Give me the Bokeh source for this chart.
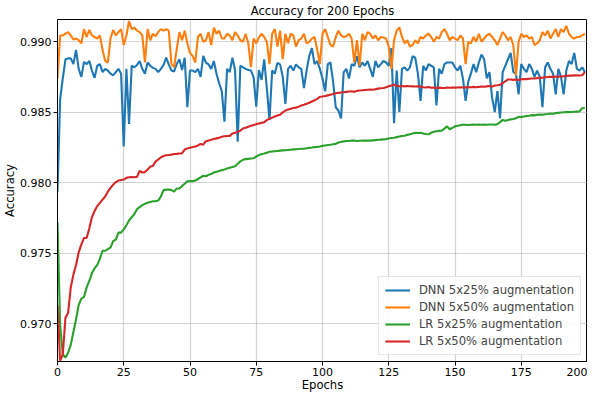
from bokeh.plotting import figure
from bokeh.models import FixedTicker, PrintfTickFormatter, Range1d, Legend, LegendItem
from bokeh.embed import file_html
from bokeh.resources import INLINE

epochs = list(range(200))

dnn_25 = [
    0.97937, 0.98593, 0.98740, 0.98876, 0.98882, 0.98882, 0.98842, 0.98943, 0.98808, 0.98751,
    0.98857, 0.98842, 0.98864, 0.98796, 0.98744, 0.98830, 0.98842, 0.98785, 0.98808, 0.98796,
    0.98774, 0.98762, 0.98785, 0.98808, 0.98774, 0.98258, 0.98808, 0.98417, 0.98830, 0.98819,
    0.98835, 0.98864, 0.98808, 0.98774, 0.98853, 0.98830, 0.98815, 0.98808, 0.98785, 0.98808,
    0.98835, 0.98887, 0.98840, 0.98796, 0.98790, 0.98842, 0.98876, 0.98800, 0.98887, 0.98536,
    0.98796, 0.98796, 0.98785, 0.98808, 0.98751, 0.98900, 0.98853, 0.98840, 0.98808, 0.98864,
    0.98774, 0.98706, 0.98650, 0.98434, 0.98808, 0.98785, 0.98887, 0.98800, 0.98292, 0.98830,
    0.98819, 0.98808, 0.98800, 0.98796, 0.98750, 0.98540, 0.98800, 0.98730, 0.98876, 0.98670,
    0.98446, 0.98796, 0.98774, 0.98850, 0.98840, 0.98751, 0.98559, 0.98808, 0.98830, 0.98796,
    0.98840, 0.98819, 0.98808, 0.98672, 0.98796, 0.98898, 0.98955, 0.98842, 0.98864, 0.98808,
    0.98740, 0.98649, 0.98842, 0.98853, 0.98717, 0.98536, 0.98513, 0.98457, 0.98785, 0.98808,
    0.98740, 0.98842, 0.98830, 0.98898, 0.98819, 0.98853, 0.98830, 0.98864, 0.98808, 0.98751,
    0.98864, 0.98819, 0.98842, 0.98864, 0.98853, 0.98830, 0.98955, 0.98423, 0.98796, 0.98502,
    0.98808, 0.98819, 0.98796, 0.98819, 0.98898, 0.98887, 0.98774, 0.98581, 0.98830, 0.98796,
    0.98842, 0.98830, 0.98819, 0.98548, 0.98808, 0.98774, 0.98842, 0.98853, 0.98853, 0.98853,
    0.98819, 0.98796, 0.98830, 0.98740, 0.98581, 0.98717, 0.98774, 0.98842, 0.98785, 0.98853,
    0.98910, 0.98876, 0.98740, 0.98785, 0.98604, 0.98502, 0.98650, 0.98457, 0.98785, 0.98830,
    0.98876, 0.98921, 0.98785, 0.98774, 0.98627, 0.98842, 0.98808, 0.98785, 0.98842, 0.98808,
    0.98751, 0.98796, 0.98751, 0.98536, 0.98819, 0.98853, 0.98808, 0.98774, 0.98627, 0.98808,
    0.98751, 0.98627, 0.98796, 0.98864, 0.98842, 0.98921, 0.98808, 0.98796, 0.98819, 0.98785,
]

dnn_50 = [
    0.98740, 0.99045, 0.99045, 0.99057, 0.99068, 0.99045, 0.99016, 0.99023, 0.99011, 0.98989,
    0.99090, 0.99034, 0.99084, 0.99045, 0.99034, 0.99023, 0.99045, 0.98943, 0.98864, 0.98853,
    0.99023, 0.99084, 0.99045, 0.99068, 0.99090, 0.98977, 0.99045, 0.99147, 0.99090, 0.99101,
    0.99079, 0.99068, 0.99045, 0.98853, 0.99090, 0.99011, 0.99057, 0.99040, 0.99068, 0.99090,
    0.99079, 0.99090, 0.99079, 0.98842, 0.98820, 0.98950, 0.99068, 0.99011, 0.99079, 0.98990,
    0.98920, 0.98900, 0.98853, 0.99034, 0.99057, 0.99000, 0.99011, 0.99068, 0.98977, 0.99101,
    0.99057, 0.99079, 0.99023, 0.99023, 0.99057, 0.99045, 0.99011, 0.99068, 0.99045, 0.99011,
    0.99000, 0.99057, 0.98989, 0.98820, 0.99023, 0.98989, 0.99030, 0.99057, 0.99034, 0.99000,
    0.98842, 0.99057, 0.99090, 0.98966, 0.99079, 0.98876, 0.99057, 0.98989, 0.99057, 0.99045,
    0.98966, 0.99011, 0.99023, 0.99057, 0.98989, 0.99000, 0.99023, 0.99034, 0.98943, 0.98842,
    0.99057, 0.99090, 0.99034, 0.98977, 0.98966, 0.99034, 0.99079, 0.99045, 0.99034, 0.99040,
    0.99057, 0.99023, 0.98853, 0.99011, 0.98830, 0.99057, 0.99011, 0.99068, 0.99057, 0.99023,
    0.99045, 0.99011, 0.99034, 0.99030, 0.99023, 0.98966, 0.98808, 0.99011, 0.99079, 0.99102,
    0.99034, 0.98989, 0.99011, 0.98966, 0.98977, 0.99011, 0.98989, 0.99034, 0.99023, 0.99045,
    0.99057, 0.99034, 0.99000, 0.99034, 0.99023, 0.99068, 0.99090, 0.99057, 0.99011, 0.99034,
    0.99023, 0.99011, 0.99045, 0.99023, 0.98842, 0.99000, 0.98989, 0.99034, 0.99000, 0.99057,
    0.99000, 0.99023, 0.99045, 0.99057, 0.99034, 0.99011, 0.98977, 0.99023, 0.99068, 0.99045,
    0.99011, 0.99034, 0.98977, 0.98762, 0.99000, 0.99057, 0.99034, 0.99045, 0.99023, 0.99034,
    0.98977, 0.98989, 0.99011, 0.99068, 0.99045, 0.99079, 0.99023, 0.99057, 0.99090, 0.99034,
    0.99090, 0.99068, 0.99113, 0.99057, 0.99034, 0.99023, 0.99034, 0.99034, 0.99045, 0.99057,
]

lr_25 = [
    0.97722, 0.96987, 0.96783, 0.96761, 0.96795, 0.96851, 0.96942, 0.97033, 0.97134, 0.97179,
    0.97191, 0.97258, 0.97304, 0.97360, 0.97394, 0.97417, 0.97462, 0.97518, 0.97518, 0.97530,
    0.97541, 0.97586, 0.97598, 0.97647, 0.97647, 0.97670, 0.97699, 0.97733, 0.97756, 0.97779,
    0.97813, 0.97828, 0.97842, 0.97851, 0.97858, 0.97864, 0.97869, 0.97869, 0.97874, 0.97903,
    0.97948, 0.97952, 0.97952, 0.97948, 0.97937, 0.97960, 0.97960, 0.97978, 0.97993, 0.98010,
    0.98012, 0.98012, 0.98016, 0.98027, 0.98039, 0.98050, 0.98046, 0.98057, 0.98062, 0.98073,
    0.98078, 0.98084, 0.98090, 0.98095, 0.98101, 0.98107, 0.98112, 0.98118, 0.98135, 0.98152,
    0.98163, 0.98168, 0.98170, 0.98172, 0.98174, 0.98186, 0.98197, 0.98203, 0.98208, 0.98214,
    0.98220, 0.98222, 0.98224, 0.98226, 0.98228, 0.98230, 0.98231, 0.98233, 0.98235, 0.98237,
    0.98238, 0.98240, 0.98241, 0.98242, 0.98245, 0.98248, 0.98250, 0.98253, 0.98255, 0.98258,
    0.98262, 0.98265, 0.98268, 0.98270, 0.98273, 0.98276, 0.98286, 0.98290, 0.98294, 0.98296,
    0.98297, 0.98299, 0.98299, 0.98297, 0.98298, 0.98299, 0.98299, 0.98300, 0.98299, 0.98301,
    0.98303, 0.98305, 0.98306, 0.98308, 0.98310, 0.98314, 0.98318, 0.98320, 0.98324, 0.98328,
    0.98332, 0.98334, 0.98340, 0.98344, 0.98349, 0.98355, 0.98353, 0.98355, 0.98350, 0.98346,
    0.98344, 0.98355, 0.98362, 0.98366, 0.98368, 0.98370, 0.98384, 0.98400, 0.98380, 0.98390,
    0.98400, 0.98404, 0.98408, 0.98412, 0.98412, 0.98410, 0.98412, 0.98414, 0.98412, 0.98413,
    0.98412, 0.98414, 0.98412, 0.98413, 0.98414, 0.98412, 0.98416, 0.98430, 0.98446, 0.98440,
    0.98446, 0.98450, 0.98452, 0.98458, 0.98468, 0.98466, 0.98470, 0.98474, 0.98476, 0.98480,
    0.98478, 0.98482, 0.98484, 0.98482, 0.98486, 0.98488, 0.98491, 0.98490, 0.98494, 0.98496,
    0.98498, 0.98500, 0.98502, 0.98501, 0.98502, 0.98504, 0.98505, 0.98506, 0.98529, 0.98530,
]

lr_50 = [
    0.97134, 0.96738, 0.96783, 0.97044, 0.97077, 0.97258, 0.97349, 0.97417, 0.97507, 0.97564,
    0.97609, 0.97609, 0.97677, 0.97756, 0.97801, 0.97835, 0.97858, 0.97881, 0.97903, 0.97937,
    0.97964, 0.97987, 0.98005, 0.98016, 0.98020, 0.98023, 0.98035, 0.98039, 0.98040, 0.98039,
    0.98042, 0.98084, 0.98073, 0.98076, 0.98095, 0.98115, 0.98120, 0.98150, 0.98165, 0.98180,
    0.98190, 0.98195, 0.98197, 0.98200, 0.98204, 0.98205, 0.98208, 0.98210, 0.98236, 0.98244,
    0.98249, 0.98254, 0.98258, 0.98265, 0.98276, 0.98270, 0.98295, 0.98300, 0.98305, 0.98310,
    0.98315, 0.98320, 0.98326, 0.98330, 0.98332, 0.98333, 0.98350, 0.98355, 0.98360, 0.98370,
    0.98385, 0.98390, 0.98398, 0.98405, 0.98410, 0.98416, 0.98420, 0.98425, 0.98430, 0.98445,
    0.98455, 0.98462, 0.98470, 0.98477, 0.98482, 0.98500, 0.98512, 0.98520, 0.98525, 0.98530,
    0.98533, 0.98540, 0.98548, 0.98553, 0.98560, 0.98568, 0.98577, 0.98585, 0.98595, 0.98610,
    0.98612, 0.98615, 0.98620, 0.98625, 0.98630, 0.98635, 0.98638, 0.98640, 0.98642, 0.98645,
    0.98647, 0.98649, 0.98645, 0.98652, 0.98655, 0.98656, 0.98658, 0.98660, 0.98661, 0.98660,
    0.98664, 0.98668, 0.98670, 0.98672, 0.98678, 0.98684, 0.98690, 0.98695, 0.98688, 0.98685,
    0.98686, 0.98684, 0.98686, 0.98685, 0.98684, 0.98683, 0.98685, 0.98683, 0.98678, 0.98676,
    0.98680, 0.98674, 0.98676, 0.98672, 0.98675, 0.98673, 0.98672, 0.98676, 0.98674, 0.98676,
    0.98675, 0.98676, 0.98678, 0.98676, 0.98677, 0.98678, 0.98678, 0.98680, 0.98678, 0.98680,
    0.98683, 0.98681, 0.98684, 0.98686, 0.98682, 0.98690, 0.98692, 0.98695, 0.98706, 0.98720,
    0.98733, 0.98733, 0.98730, 0.98732, 0.98729, 0.98734, 0.98736, 0.98735, 0.98738, 0.98740,
    0.98740, 0.98742, 0.98744, 0.98745, 0.98748, 0.98750, 0.98751, 0.98751, 0.98753, 0.98752,
    0.98754, 0.98756, 0.98758, 0.98760, 0.98760, 0.98762, 0.98762, 0.98761, 0.98763, 0.98785,
]

series_names = ["DNN 5x25% augmentation", "DNN 5x50% augmentation",
                "LR 5x25% augmentation", "LR 5x50% augmentation"]
series_values = [dnn_25, dnn_50, lr_25, lr_50]
colors = ["#1f77b4", "#ff7f0e", "#2ca02c", "#d62728"]

x_ticks = [0, 25, 50, 75, 100, 125, 150, 175, 200]
y_ticks = [0.970, 0.975, 0.980, 0.985, 0.990]

FONT = "DejaVu Sans"

p = figure(width=587, height=394, output_backend="svg", toolbar_location=None,
           title="Accuracy for 200 Epochs",
           x_range=Range1d(0, 200), y_range=Range1d(0.96733, 0.99158))
p.min_border_left = 51
p.min_border_right = 0
p.min_border_top = 12
p.min_border_bottom = 0

p.title.align = "center"
p.title.text_font = FONT
p.title.text_font_size = "11.6px"
p.title.text_font_style = "normal"
p.title.text_color = "#000000"
p.title.standoff = 3

items = []
for name, vals, c in zip(series_names, series_values, colors):
    r = p.line(epochs, vals, line_color=c, line_width=2.1)
    items.append(LegendItem(label=name, renderers=[r]))

legend = Legend(items=items, location="bottom_right")
legend.label_text_font = FONT
legend.label_text_font_size = "11.6px"
legend.glyph_width = 25
legend.glyph_height = 14
legend.label_standoff = 9
legend.spacing = 3
legend.padding = 6
legend.margin = 6
legend.border_line_color = "#cccccc"
legend.border_line_width = 1
legend.background_fill_alpha = 0.85
p.add_layout(legend)

for ax in (p.xaxis, p.yaxis):
    ax.major_label_text_font = FONT
    ax.major_label_text_font_size = "11px"
    ax.major_label_text_color = "#000000"
    ax.axis_label_text_font = FONT
    ax.axis_label_text_font_size = "11.6px"
    ax.axis_label_text_font_style = "normal"
    ax.axis_label_text_color = "#000000"
    ax.major_tick_in = 0
    ax.major_tick_out = 4
    ax.minor_tick_out = 0
    ax.minor_tick_in = 0
    ax.axis_line_color = "#000000"
    ax.major_tick_line_color = "#000000"
    ax.major_label_standoff = 2

p.xaxis.axis_label_standoff = -1
p.yaxis.axis_label_standoff = 0

p.xaxis.axis_label = "Epochs"
p.yaxis.axis_label = "Accuracy"
p.xaxis.ticker = FixedTicker(ticks=x_ticks)
p.yaxis.ticker = FixedTicker(ticks=y_ticks)
p.yaxis.formatter = PrintfTickFormatter(format="%.3f")

p.xgrid.ticker = FixedTicker(ticks=x_ticks)
p.ygrid.ticker = FixedTicker(ticks=y_ticks)
for g in (p.xgrid, p.ygrid):
    g.grid_line_color = "#b0b0b0"
    g.grid_line_alpha = 0.55
    g.grid_line_width = 1.2

p.outline_line_color = "#000000"
p.outline_line_width = 1
p.outline_line_alpha = 1.0
p.background_fill_color = "#ffffff"
p.border_fill_color = "#ffffff"

open("out.html", "w").write(file_html(p, INLINE))
